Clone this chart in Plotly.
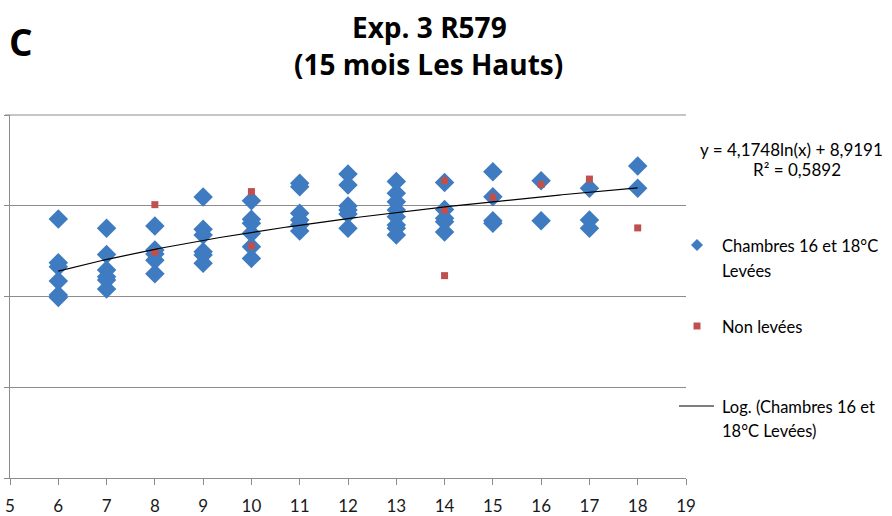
import numpy as np
import plotly.graph_objects as go

W, H = 892, 516

# Age (months) and measured values, "Chambres 16 et 18°C Levées"
levees_x = [6, 6, 6, 6, 6, 6,
            7, 7, 7, 7, 7, 7,
            8, 8, 8, 8, 8,
            9, 9, 9, 9, 9, 9,
            10, 10, 10, 10, 10, 10,
            11, 11, 11, 11, 11, 11,
            12, 12, 12, 12, 12, 12,
            13, 13, 13, 13, 13, 13, 13, 13,
            14, 14, 14, 14, 14,
            15, 15, 15, 15,
            16, 16,
            17, 17, 17,
            18, 18]
levees_y = [19.27, 16.86, 16.64, 15.85, 15.08, 14.94,
            18.76, 17.32, 16.46, 16.09, 15.91, 15.41,
            18.88, 17.56, 17.34, 17.0, 16.26,
            20.48, 18.70, 18.39, 17.47, 17.29, 16.83,
            20.28, 19.25, 19.03, 18.48, 17.74, 17.10,
            21.24, 21.05, 19.58, 19.21, 18.94, 18.61,
            21.75, 21.14, 19.99, 19.77, 19.55, 18.76,
            21.33, 20.69, 20.22, 19.77, 19.40, 18.94, 18.76, 18.39,
            21.28, 19.80, 19.31, 19.12, 18.55,
            21.88, 20.50, 19.18, 19.03,
            21.38, 19.18,
            20.96, 19.21, 18.76,
            22.19, 20.96]

# "Non levées"
non_levees_x = [8, 8, 10, 10, 14, 14, 14, 15, 16, 17, 18]
non_levees_y = [20.06, 17.44, 20.78, 17.78, 21.38, 19.77, 16.15, 20.47, 21.18, 21.47, 18.78]

# Logarithmic trend coefficients
trend_a, trend_b, trend_r2 = 4.1748, 8.9191, 0.5892

x_ticks = list(range(5, 20))

BLUE = "#3F7BC1"
RED = "#C0504D"
GRID = "#8C8C8C"
FONT = "Lato"
TITLE_FONT = "Open Sans"
TXT = 16.5

# plot area in pixels
PX0, PX1, PY0, PY1 = 10, 686, 115, 478

tx = np.linspace(min(levees_x), max(levees_x), 200)
ty = trend_a * np.log(tx) + trend_b

fig = go.Figure()
fig.add_trace(go.Scatter(x=levees_x, y=levees_y, mode="markers",
                         marker=dict(symbol="diamond", size=15, color=BLUE),
                         showlegend=False))
fig.add_trace(go.Scatter(x=non_levees_x, y=non_levees_y, mode="markers",
                         marker=dict(symbol="square", size=7, color=RED),
                         showlegend=False))
fig.add_trace(go.Scatter(x=tx, y=ty, mode="lines",
                         line=dict(color="black", width=1.2),
                         showlegend=False, hoverinfo="skip"))


def px(x):
    return x / W


def py(y):
    return 1 - y / H


fig.update_layout(
    width=W, height=H,
    margin=dict(l=0, r=0, t=0, b=0),
    paper_bgcolor="white", plot_bgcolor="white",
    font=dict(family=FONT, color="black"),
    xaxis=dict(domain=[px(PX0), px(PX1)], range=[5, 19], tickvals=x_ticks,
               ticktext=[str(v) for v in x_ticks],
               showgrid=False, zeroline=False, showline=True, linecolor=GRID,
               linewidth=1, ticks="outside", ticklen=6, tickcolor=GRID,
               ticklabelstandoff=7,
               tickfont=dict(size=17, family=FONT, color="#1a1a1a"), automargin=False),
    yaxis=dict(domain=[py(PY1), py(PY0)], range=[5, 25], tickvals=[5, 10, 15, 20, 25],
               showticklabels=False, showgrid=True, gridcolor=GRID, gridwidth=1,
               zeroline=False, showline=True, linecolor=GRID, linewidth=1,
               ticks="outside", ticklen=5, tickcolor=GRID, automargin=False),
)

shapes = []
annotations = []

# top gridline
shapes.append(dict(type="line", xref="paper", yref="paper",
                   x0=px(PX0 - 5), x1=px(PX1), y0=py(PY0), y1=py(PY0),
                   line=dict(color=GRID, width=1)))

# Panel letter and title
annotations.append(dict(text="<b>C</b>", xref="paper", yref="paper",
                        x=px(7), y=py(41), xanchor="left", yanchor="middle",
                        showarrow=False, font=dict(size=37, family=TITLE_FONT)))
annotations.append(dict(text="<b>Exp. 3 R579</b>", xref="paper", yref="paper",
                        x=px(429), y=py(27), xanchor="center", yanchor="middle",
                        showarrow=False, font=dict(size=28, family=TITLE_FONT)))
annotations.append(dict(text="<b>(15 mois Les Hauts)</b>", xref="paper", yref="paper",
                        x=px(428), y=py(64), xanchor="center", yanchor="middle",
                        showarrow=False, font=dict(size=28, family=TITLE_FONT)))

# Trend equation
eq = f"y = {trend_a:.4f}ln(x) + {trend_b:.4f}".replace(".", ",")
r2 = f"R² = {trend_r2:.4f}".replace(".", ",")
annotations.append(dict(text=eq, xref="paper", yref="paper", x=px(791), y=py(149),
                        xanchor="center", yanchor="middle", showarrow=False,
                        font=dict(size=17, family=FONT)))
annotations.append(dict(text=r2, xref="paper", yref="paper", x=px(797), y=py(170),
                        xanchor="center", yanchor="middle", showarrow=False,
                        font=dict(size=17, family=FONT)))

# Legend
LX = 720
shapes.append(dict(type="path", xref="paper", yref="paper",
                   path=f"M {px(697)},{py(239)} L {px(703)},{py(245)} L {px(697)},{py(251)} L {px(691)},{py(245)} Z",
                   fillcolor=BLUE, line=dict(width=0)))
annotations.append(dict(text="Chambres 16 et 18°C", xref="paper", yref="paper",
                        x=px(LX), y=py(246), xanchor="left", yanchor="middle",
                        showarrow=False, font=dict(size=TXT, family=FONT)))
annotations.append(dict(text="Levées", xref="paper", yref="paper",
                        x=px(LX), y=py(271), xanchor="left", yanchor="middle",
                        showarrow=False, font=dict(size=TXT, family=FONT)))
shapes.append(dict(type="rect", xref="paper", yref="paper",
                   x0=px(693.5), x1=px(700.5), y0=py(322.5), y1=py(329.5),
                   fillcolor=RED, line=dict(width=0)))
annotations.append(dict(text="Non levées", xref="paper", yref="paper",
                        x=px(LX), y=py(327), xanchor="left", yanchor="middle",
                        showarrow=False, font=dict(size=TXT, family=FONT)))
shapes.append(dict(type="line", xref="paper", yref="paper",
                   x0=px(679), x1=px(714), y0=py(406), y1=py(406),
                   line=dict(color="black", width=1.2)))
annotations.append(dict(text="Log. (Chambres 16 et", xref="paper", yref="paper",
                        x=px(LX), y=py(407), xanchor="left", yanchor="middle",
                        showarrow=False, font=dict(size=TXT, family=FONT)))
annotations.append(dict(text="18°C Levées)", xref="paper", yref="paper",
                        x=px(LX), y=py(431), xanchor="left", yanchor="middle",
                        showarrow=False, font=dict(size=TXT, family=FONT)))

fig.update_layout(shapes=shapes, annotations=annotations)
fig.write_html("out.html")
